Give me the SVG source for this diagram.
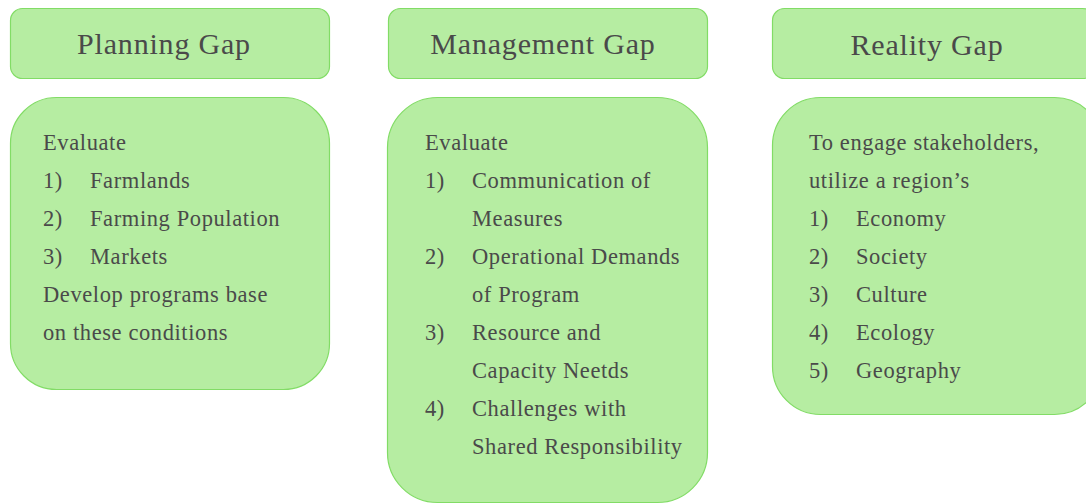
<svg xmlns="http://www.w3.org/2000/svg" width="1086" height="504" viewBox="0 0 1086 504">
  <style>
    .box { fill: #b6eda2; stroke: #82dc66; stroke-width: 1.2; }
    .head { font-family: "Liberation Serif", "DejaVu Serif", serif; font-size: 30px; letter-spacing: 0.8px; fill: #4a4a4a; text-anchor: middle; }
    .body { font-family: "Liberation Serif", "DejaVu Serif", serif; font-size: 22.5px; letter-spacing: 0.6px; fill: #4a4a4a; }
  </style>

  <!-- Planning Gap -->
  <g id="planning-head">
    <rect class="box" x="10.5" y="8.5" width="319" height="70" rx="12"/>
    <text class="head" x="164" y="54">Planning Gap</text>
  </g>
  <g id="planning-body">
    <rect class="box" x="10.5" y="97.5" width="319" height="292" rx="46"/>
    <text class="body" x="43" y="150">Evaluate</text>
    <text class="body" x="43" y="188">1)</text><text class="body" x="90" y="188">Farmlands</text>
    <text class="body" x="43" y="226">2)</text><text class="body" x="90" y="226">Farming Population</text>
    <text class="body" x="43" y="264">3)</text><text class="body" x="90" y="264">Markets</text>
    <text class="body" x="43" y="302">Develop programs base</text>
    <text class="body" x="43" y="340">on these conditions</text>
  </g>

  <!-- Management Gap -->
  <g id="management-head">
    <rect class="box" x="388.5" y="8.5" width="319" height="70" rx="12"/>
    <text class="head" x="543" y="54">Management Gap</text>
  </g>
  <g id="management-body">
    <rect class="box" x="387.5" y="97.5" width="320" height="405" rx="50"/>
    <text class="body" x="425" y="150">Evaluate</text>
    <text class="body" x="425" y="188">1)</text><text class="body" x="472" y="188">Communication of</text>
    <text class="body" x="472" y="226">Measures</text>
    <text class="body" x="425" y="264">2)</text><text class="body" x="472" y="264">Operational Demands</text>
    <text class="body" x="472" y="302">of Program</text>
    <text class="body" x="425" y="340">3)</text><text class="body" x="472" y="340">Resource and</text>
    <text class="body" x="472" y="378">Capacity Neetds</text>
    <text class="body" x="425" y="416">4)</text><text class="body" x="472" y="416">Challenges with</text>
    <text class="body" x="472" y="454">Shared Responsibility</text>
  </g>

  <!-- Reality Gap -->
  <g id="reality-head">
    <rect class="box" x="772.5" y="8.5" width="322" height="70" rx="12"/>
    <text class="head" x="927" y="55">Reality Gap</text>
  </g>
  <g id="reality-body">
    <rect class="box" x="772.5" y="97.5" width="330" height="317" rx="48"/>
    <text class="body" x="809" y="150">To engage stakeholders,</text>
    <text class="body" x="809" y="188">utilize a region’s</text>
    <text class="body" x="809" y="226">1)</text><text class="body" x="856" y="226">Economy</text>
    <text class="body" x="809" y="264">2)</text><text class="body" x="856" y="264">Society</text>
    <text class="body" x="809" y="302">3)</text><text class="body" x="856" y="302">Culture</text>
    <text class="body" x="809" y="340">4)</text><text class="body" x="856" y="340">Ecology</text>
    <text class="body" x="809" y="378">5)</text><text class="body" x="856" y="378">Geography</text>
  </g>

  <!-- no connectors in this figure -->
  <g id="connectors"/>
</svg>
